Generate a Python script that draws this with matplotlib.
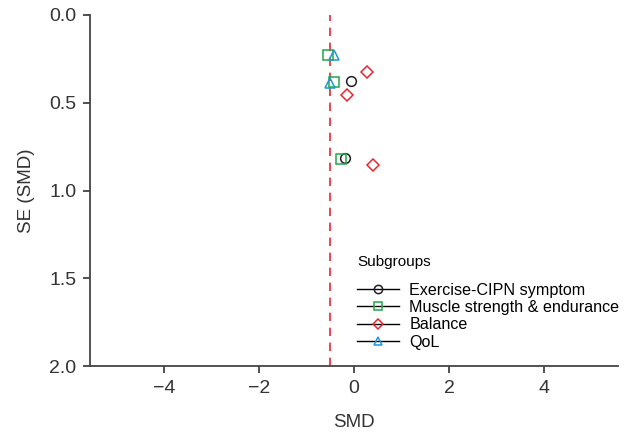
import matplotlib
matplotlib.use("Agg")
from matplotlib import pyplot as plt
from matplotlib.lines import Line2D

plt.rcParams['font.family'] = ['Liberation Sans', 'DejaVu Sans']

# study effects (SMD) and standard errors, by subgroup
cipn_smd = [-0.07, -0.19]
cipn_se = [0.374, 0.813]
muscle_smd = [-0.55, -0.42, -0.28]
muscle_se = [0.228, 0.380, 0.822]
balance_smd = [0.28, -0.14, 0.39]
balance_se = [0.325, 0.456, 0.855]
qol_smd = [-0.42, -0.50]
qol_se = [0.228, 0.386]
pooled = -0.505

labels = ['Exercise-CIPN symptom', 'Muscle strength & endurance', 'Balance', 'QoL']
colors = ['#231f20', '#1fa84a', '#e8262d', '#1b9ad7']
markers = ['o', 's', 'D', '^']

fig = plt.figure(figsize=(6.3, 4.38), dpi=100)
ax = fig.add_axes([0.143, 0.164, 0.838, 0.802])

ax.axvline(pooled, color='#e8262d', ls=(0, (5, 4)), lw=1.2, zorder=1)

groups = [(cipn_smd, cipn_se), (muscle_smd, muscle_se),
          (balance_smd, balance_se), (qol_smd, qol_se)]
handles = []
for (xs, ys), lab, c, m in zip(groups, labels, colors, markers):
    ms = 6 if m == 'D' else 7
    ax.plot(xs, ys, ls='none', marker=m, ms=ms, mfc='none', mec=c, mew=1.1, zorder=3)
    handles.append(Line2D([], [], color='black', lw=1, marker=m, ms=ms - 1,
                          mfc='none', mec=c, mew=1.1, label=lab))

ax.set_xlim(-5.56, 5.56)
ax.set_ylim(2.0, 0.0)
ax.set_xticks([-4, -2, 0, 2, 4])
ax.set_yticks([0.0, 0.5, 1.0, 1.5, 2.0])
ax.set_xticklabels(['\u22124', '\u22122', '0', '2', '4'])
ax.set_yticklabels(['0.0', '0.5', '1.0', '1.5', '2.0'])
ax.tick_params(labelsize=14, colors='#333333', length=5, width=1.2, pad=5)
for s in ['top', 'right']:
    ax.spines[s].set_visible(False)
for s in ['left', 'bottom']:
    ax.spines[s].set_color('#444444')
    ax.spines[s].set_linewidth(1.3)

ax.set_xlabel('SMD', fontsize=13.5, color='#333333', labelpad=12)
ax.set_ylabel('SE (SMD)', fontsize=13.5, color='#333333', labelpad=10)

leg = ax.legend(handles=handles, title='Subgroups', loc='lower right',
                bbox_to_anchor=(1.03, 0.005), frameon=False, fontsize=11.6,
                title_fontsize=11, handlelength=2.6, handletextpad=0.65,
                labelspacing=0.15)
leg._legend_box.align = 'left'
leg._legend_box.sep = 10

fig.savefig('out.png', dpi=100)
